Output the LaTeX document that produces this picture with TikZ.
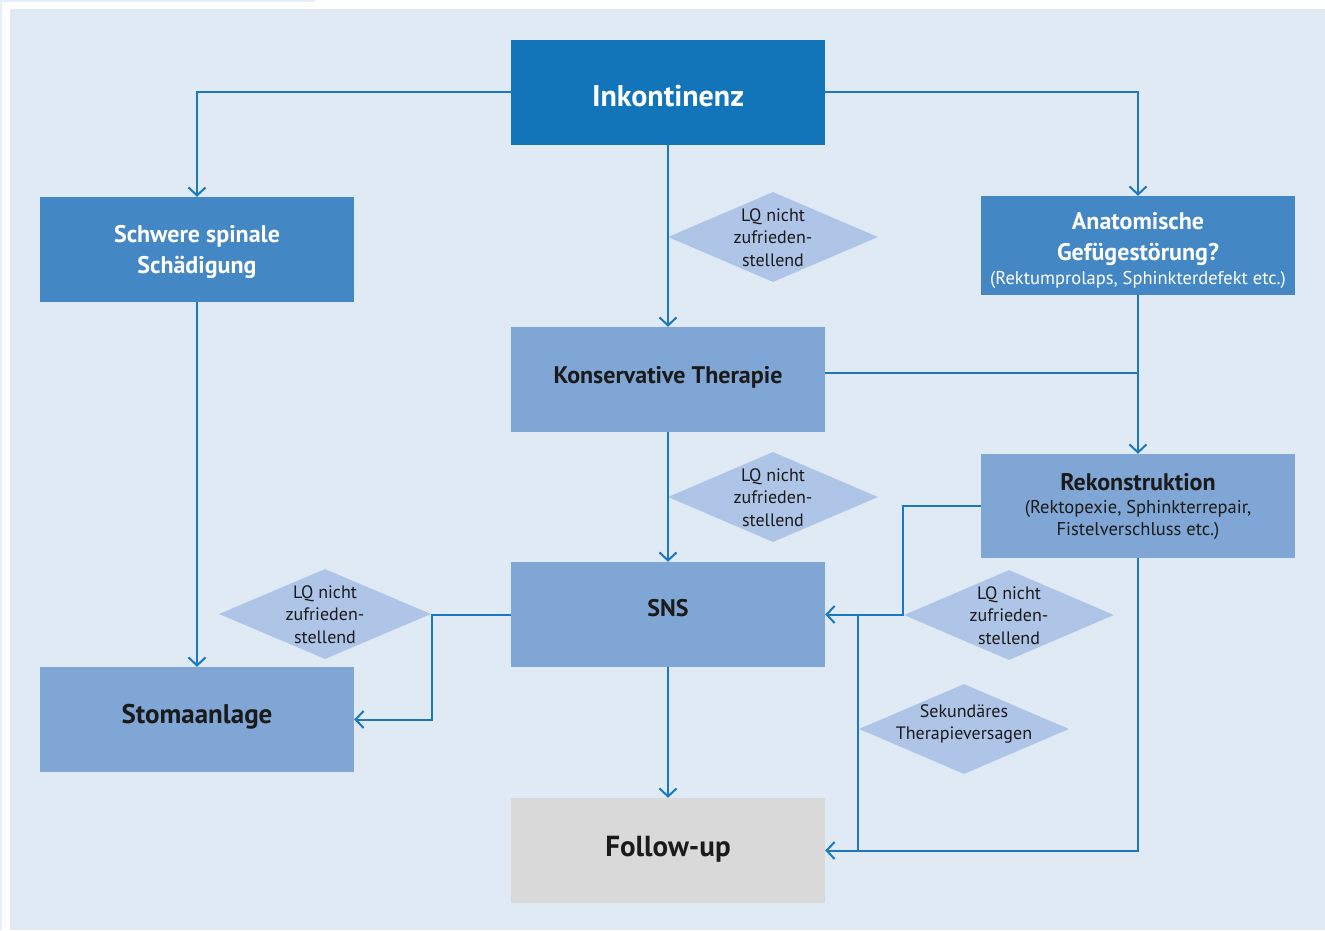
\documentclass[tikz,border=0pt]{standalone}
\usepackage{fontspec}
\setmainfont{PT Sans}
\usetikzlibrary{arrows.meta,shapes.geometric}
\definecolor{panel}{HTML}{E0EAF4}
\definecolor{topline}{HTML}{E6EFF9}
\definecolor{dark}{HTML}{1275B9}
\definecolor{mid}{HTML}{4387C5}
\definecolor{light}{HTML}{7FA6D5}
\definecolor{grey}{HTML}{D9D9D9}
\definecolor{dia}{HTML}{AFC5E8}
\definecolor{conn}{HTML}{1B78C0}
\definecolor{txt}{HTML}{1A1A1A}
\tikzset{
  box/.style={rectangle, minimum width=314pt, minimum height=105pt, inner sep=0pt},
  darkbox/.style={box, fill=dark},
  midbox/.style={box, fill=mid},
  lightbox/.style={box, fill=light},
  greybox/.style={box, fill=grey},
  wtext/.style={align=center, inner sep=0pt, text=white, font=\fontsize{24}{31}\selectfont\bfseries},
  btext/.style={align=center, inner sep=0pt, text=txt, font=\fontsize{24}{31}\selectfont\bfseries},
  diashape/.style={diamond, fill=dia, minimum width=210pt, minimum height=90pt, inner sep=0pt, shape aspect=2.33},
  diatext/.style={align=center, text=txt, font=\fontsize{18}{22.5}\selectfont, inner sep=0pt},
  conn/.style={draw=conn, line width=2pt},
  arr/.style={conn, -{Straight Barb[length=8pt,width=17pt,line width=2pt]}},
  sm/.style={}
}
\newcommand{\smalltxt}[1]{{\fontsize{18.5}{22}\selectfont\mdseries #1}}
\begin{document}
\begin{tikzpicture}[x=1pt,y=-1pt]
\useasboundingbox (0,0) rectangle (1325,930);
\fill[topline] (0,0) rectangle (315,2);
\fill[topline] (0,0) rectangle (2,930);
\fill[panel] (10,9) rectangle (1325,930);

% boxes
\node[darkbox] (ink) at (668,92.5) {};
\node[wtext, font=\fontsize{30}{31}\selectfont\bfseries] (inkt) at (668,96) {Inkontinenz};
\node[midbox] (sch) at (197,249.5) {};
\node[wtext] (scht) at (197,251.5) {Schwere spinale\\Schädigung};
\node[midbox, minimum height=99pt] (ana) at (1138,245.5) {};
\node[wtext] (anat) at (1138,250) {Anatomische\\Gefügestörung?\\[-7pt]\smalltxt{(Rektumprolaps, Sphinkterdefekt etc.)}};
\node[lightbox] (kon) at (668,379.5) {};
\node[btext] (kont) at (668,377.5) {Konservative Therapie};
\node[lightbox, minimum height=104pt] (rek) at (1138,506) {};
\node[btext] (rekt) at (1138,506.5) {Rekonstruktion\\[-8pt]\smalltxt{(Rektopexie, Sphinkterrepair,}\\[-9pt]\smalltxt{Fistelverschluss etc.)}};
\node[lightbox] (sns) at (668,614.5) {};
\node[btext] (snst) at (668,608.5) {SNS};
\node[lightbox] (sto) at (197,719.5) {};
\node[btext, font=\fontsize{27}{31}\selectfont\bfseries] (stot) at (197,716.5) {Stomaanlage};
\node[greybox] (fol) at (668,850.5) {};
\node[btext, font=\fontsize{29}{31}\selectfont\bfseries] (folt) at (668,849) {Follow-up};

% diamonds
\node[diashape] (d1) at (773,237) {};
\node[diatext] (t1) at (773,237.5) {LQ nicht\\zufrieden-\\stellend};
\node[diashape] (d2) at (773,497) {};
\node[diatext] (t2) at (773,497.5) {LQ nicht\\zufrieden-\\stellend};
\node[diashape, minimum width=212pt] (d3) at (325,614) {};
\node[diatext] (t3) at (325,614.5) {LQ nicht\\zufrieden-\\stellend};
\node[diashape] (d4) at (1009,615) {};
\node[diatext] (t4) at (1009,615.5) {LQ nicht\\zufrieden-\\stellend};
\node[diashape] (d5) at (964,729) {};
\node[diatext] (t5) at (964,724) {Sekundäres\\Therapieversagen};

% coordinates
\coordinate (jk) at (1138,373);
\coordinate (j1) at (858,614.5);
\coordinate (j2) at (858,850.5);
\coordinate (bl) at (432,614.5);
\coordinate (br) at (903,506);

% connectors
\draw[arr] (ink.west |- 0,92) -| (sch.north);
\draw[arr] (ink.east |- 0,92) -| (ana.north);
\draw[arr] (ink.south) -- (kon.north);
\draw[arr] (ana.south) -- (rek.north);
\draw[conn] (kon.east |- jk) -- (jk);
\draw[arr] (kon.south) -- (sns.north);
\draw[arr] (sch.south) -- (sto.north);
\draw[arr] (sns.south) -- (fol.north);
\draw[arr] (sns.west) -- (bl) |- (sto.east);
\draw[arr] (rek.west) -- (br) |- (sns.east);
\draw[arr] (rek.south) |- (fol.east);
\draw[conn] (j1) -- (j2);
\end{tikzpicture}
\end{document}
